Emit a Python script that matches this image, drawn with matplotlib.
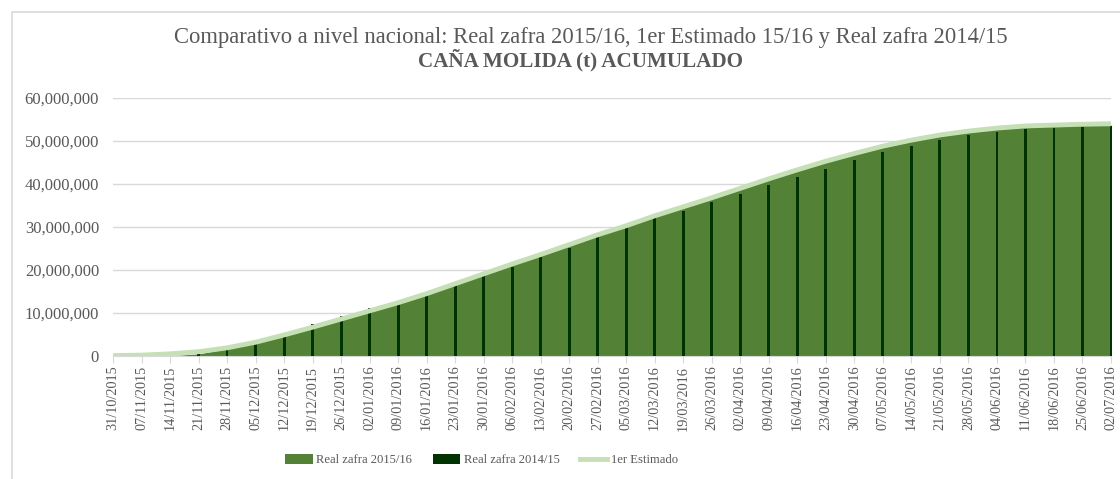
import matplotlib
matplotlib.use("Agg")
import matplotlib.pyplot as plt
from matplotlib.patches import Patch, Rectangle
from matplotlib.lines import Line2D
import numpy as np

fechas = ["31/10/2015", "07/11/2015", "14/11/2015", "21/11/2015", "28/11/2015",
          "05/12/2015", "12/12/2015", "19/12/2015", "26/12/2015", "02/01/2016",
          "09/01/2016", "16/01/2016", "23/01/2016", "30/01/2016", "06/02/2016",
          "13/02/2016", "20/02/2016", "27/02/2016", "05/03/2016", "12/03/2016",
          "19/03/2016", "26/03/2016", "02/04/2016", "09/04/2016", "16/04/2016",
          "23/04/2016", "30/04/2016", "07/05/2016", "14/05/2016", "21/05/2016",
          "28/05/2016", "04/06/2016", "11/06/2016", "18/06/2016", "25/06/2016",
          "02/07/2016"]

# values in tonnes
estimado_1516 = [0.1e6, 0.2e6, 0.5e6, 1.0e6, 1.9e6, 3.2e6, 4.9e6, 6.7e6, 8.6e6, 10.5e6,
                 12.4e6, 14.5e6, 16.8e6, 19.1e6, 21.4e6, 23.6e6, 25.9e6, 28.2e6, 30.3e6, 32.6e6,
                 34.7e6, 36.8e6, 39.0e6, 41.2e6, 43.3e6, 45.3e6, 47.1e6, 48.8e6, 50.2e6, 51.4e6,
                 52.3e6, 53.0e6, 53.5e6, 53.7e6, 53.9e6, 54.0e6]

real_1516 = [0.0, 0.0, 0.05e6, 0.5e6, 1.7e6, 3.0e6, 4.7e6, 6.5e6, 8.4e6, 10.3e6,
             12.2e6, 14.3e6, 16.6e6, 18.9e6, 21.2e6, 23.4e6, 25.7e6, 28.0e6, 30.1e6, 32.4e6,
             34.5e6, 36.6e6, 38.8e6, 41.0e6, 43.1e6, 45.1e6, 46.9e6, 48.6e6, 50.0e6, 51.2e6,
             52.1e6, 52.8e6, 53.3e6, 53.5e6, 53.7e6, 53.8e6]

real_1415 = [0.0, 0.0, 0.0, 0.5e6, 1.6e6, 3.0e6, 5.4e6, 7.4e6, 9.4e6, 11.1e6,
             12.1e6, 14.3e6, 16.4e6, 18.5e6, 20.8e6, 23.0e6, 25.2e6, 27.8e6, 30.0e6, 32.1e6,
             33.7e6, 35.7e6, 37.7e6, 39.8e6, 41.7e6, 43.6e6, 45.6e6, 47.4e6, 48.8e6, 50.2e6,
             51.3e6, 52.1e6, 52.7e6, 53.0e6, 53.3e6, 53.5e6]

titulo1 = "Comparativo a nivel nacional: Real zafra 2015/16, 1er Estimado 15/16 y Real zafra 2014/15"
titulo2 = "CAÑA MOLIDA (t) ACUMULADO"
series = ["Real zafra 2015/16", "Real zafra 2014/15", "1er Estimado"]

c_area = "#538135"
c_bar = "#003300"
c_line = "#c5e0b4"
c_text = "#595959"
c_grid = "#d9d9d9"

plt.rcParams['font.family'] = ['Liberation Serif', 'DejaVu Serif']

fig = plt.figure(figsize=(11.2, 4.79), dpi=100)
fig.patches.append(Rectangle((12/1120, -0.1), 1.2, 1 - 12/479 + 0.1, transform=fig.transFigure,
                             fill=False, edgecolor=c_grid, linewidth=1.2, zorder=-1))

ax = fig.add_axes([113/1120, 1 - 356/479, (1111 - 113)/1120, (356 - 98)/479])
x = np.arange(len(fechas))

ax.fill_between(x, 0, real_1516, color=c_area, linewidth=0, zorder=2)
ax.bar(x, real_1415, width=0.1, color=c_bar, zorder=3, clip_on=False)
ax.plot(x, estimado_1516, color=c_line, linewidth=3.5, zorder=4, solid_capstyle='round')

ax.set_xlim(0, len(fechas) - 1)
ax.set_ylim(0, 60e6)
ax.set_yticks(np.arange(0, 60e6 + 1, 10e6))
ax.set_yticklabels([f"{int(v):,}" for v in np.arange(0, 60e6 + 1, 10e6)],
                   fontsize=12, color=c_text)
ax.set_xticks(x)
ax.set_xticklabels(fechas, rotation=90, fontsize=10.3, color=c_text)
ax.tick_params(axis='y', length=0, pad=10)
ax.tick_params(axis='x', length=5, color=c_grid, pad=2)
ax.yaxis.grid(True, color=c_grid, linewidth=1)
ax.set_axisbelow(True)
for s in ['top', 'right', 'left']:
    ax.spines[s].set_visible(False)
ax.spines['bottom'].set_color(c_grid)

fig.text(591/1120, 1 - 38/479, titulo1, ha='center', va='center', fontsize=16.3, color=c_text)
fig.text(580/1120, 1 - 60/479, titulo2, ha='center', va='center', fontsize=15.2,
         fontweight='bold', color=c_text)

handles = [Patch(facecolor=c_area, edgecolor='none'),
           Patch(facecolor=c_bar, edgecolor='none'),
           Line2D([0], [0], color=c_line, linewidth=3.5)]
leg = fig.legend(handles, series, loc='center', bbox_to_anchor=(0.43, 1 - 460/479), ncol=3,
                 frameon=False, fontsize=9.1, handlelength=2.2, handleheight=0.8,
                 handletextpad=0.25, columnspacing=1.6)
for t in leg.get_texts():
    t.set_color(c_text)

fig.savefig("out.png", dpi=100)
